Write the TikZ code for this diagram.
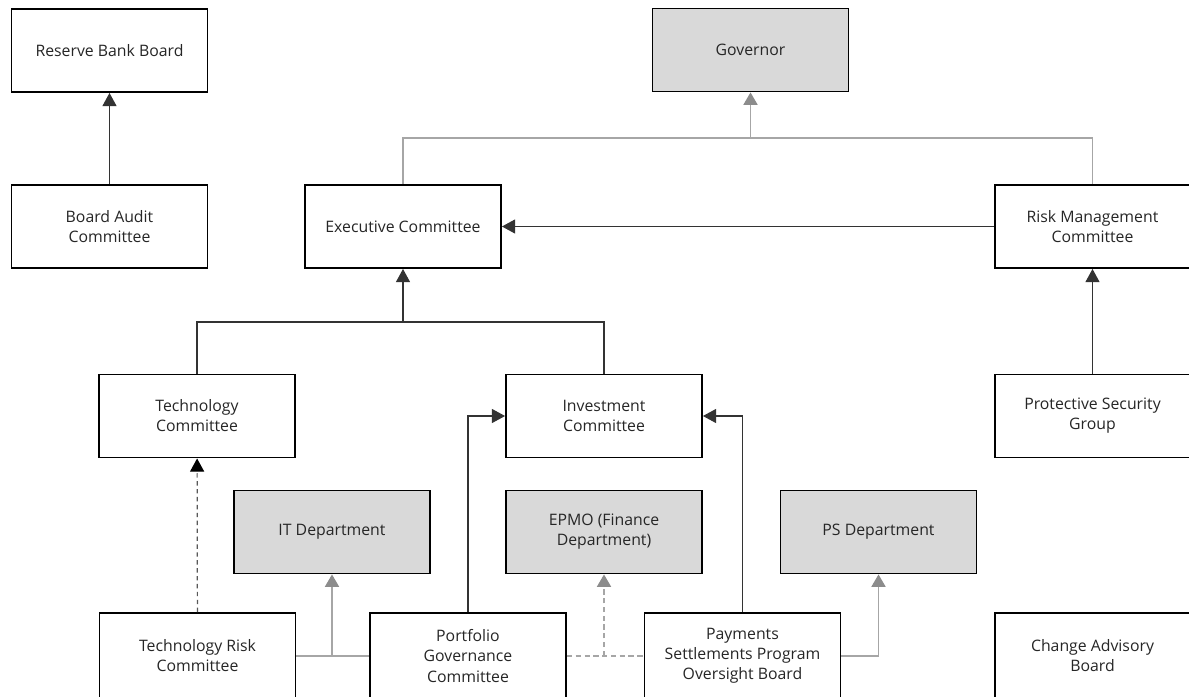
\documentclass[tikz,border=0pt]{standalone}
\usepackage{fontspec}
\setmainfont{Open Sans}
\usepackage{xcolor}
\usepackage{tikz}
\usetikzlibrary{arrows.meta,positioning}

\definecolor{boxgray}{HTML}{D9D9D9}
\definecolor{linegray}{HTML}{A6A6A6}
\definecolor{tipgray}{HTML}{8C8C8C}
\definecolor{textgray}{HTML}{262626}

\begin{document}
\begin{tikzpicture}[
  x=0.02cm, y=-0.02cm,
  line join=miter,
  >={Triangle[length=7.5pt,width=8pt]},
  unit/.style={draw=black,line width=1.1pt,fill=white,text=textgray,
    minimum width=3.92cm,minimum height=1.66cm,align=center,
    font=\fontsize{9}{11.4}\selectfont},
  lowunit/.style={unit,minimum height=1.72cm},
  dept/.style={unit,fill=boxgray},
  link/.style={black!80,line width=0.6pt},
  greylink/.style={linegray,line width=0.7pt},
  greyarrow/.style={greylink,-{Triangle[length=7pt,width=8pt,color=tipgray]}},
  dottedlink/.style={black!65,line width=0.7pt,dash pattern=on 2.5pt off 2pt}
]
\path[use as bounding box] (0,0) rectangle (1189,696);

% top row
\node[unit] (rbb) at (109.5,50.5) {Reserve Bank Board};
\node[dept] (gov) at (750.5,50) {Governor};

% committees
\node[unit] (bac) at (109.5,226.5) {Board Audit\\Committee};
\node[unit] (exec) at (403,226.5) {Executive Committee};
\node[unit] (rmc) at (1092.5,226.5) {Risk Management\\Committee};

\node[unit] (tc) at (197,416) {Technology\\Committee};
\node[unit] (ic) at (604,416) {Investment\\Committee};
\node[unit] (psg) at (1092.5,416) {Protective Security\\Group};

% departments
\node[dept] (itd) at (332,532) {IT Department};
\node[dept] (epmo) at (604,532) {EPMO (Finance\\Department)};
\node[dept] (psd) at (878.5,532) {PS Department};

% bottom row (cut off by the page edge)
\node[lowunit] (trc) at (197.5,656) {Technology Risk\\Committee};
\node[lowunit] (pgc) at (468,656) {Portfolio\\Governance\\Committee};
\node[lowunit] (pspob) at (742.5,656) {Payments\\Settlements Program\\Oversight Board};
\node[lowunit] (cab) at (1092.5,656) {Change Advisory\\Board};

% reporting lines
\draw[link,->] (bac) -- (rbb);

\draw[greylink] (exec.north) |- (rmc.north |- 0,138) -- (rmc.north);
\draw[greyarrow] (gov.south |- 0,138) -- (gov.south);

\draw[link,->] (rmc) -- (exec);
\draw[link,->] (psg) -- (rmc);

\draw[link] (tc.north) |- (ic.north |- 0,322) -- (ic.north);
\draw[link,->] (exec.south |- 0,322) -- (exec.south);

\draw[link,->] (pgc.north) |- (ic.west);
\draw[link,->] (pspob.north) |- (ic.east);

\draw[dottedlink,-{Triangle[length=7.5pt,width=8pt,color=black]}] (trc) -- (tc);

\draw[greylink] (trc.east) -- (pgc.west);
\draw[greyarrow] (itd.south |- trc.east) -- (itd.south);

\draw[greylink,dash pattern=on 3pt off 2pt] (pgc.east) -- (pspob.west);
\draw[greyarrow,dash pattern=on 3pt off 2pt] (epmo.south |- pgc.east) -- (epmo.south);

\draw[greyarrow] (pspob.east) -| (psd.south);
\end{tikzpicture}
\end{document}
